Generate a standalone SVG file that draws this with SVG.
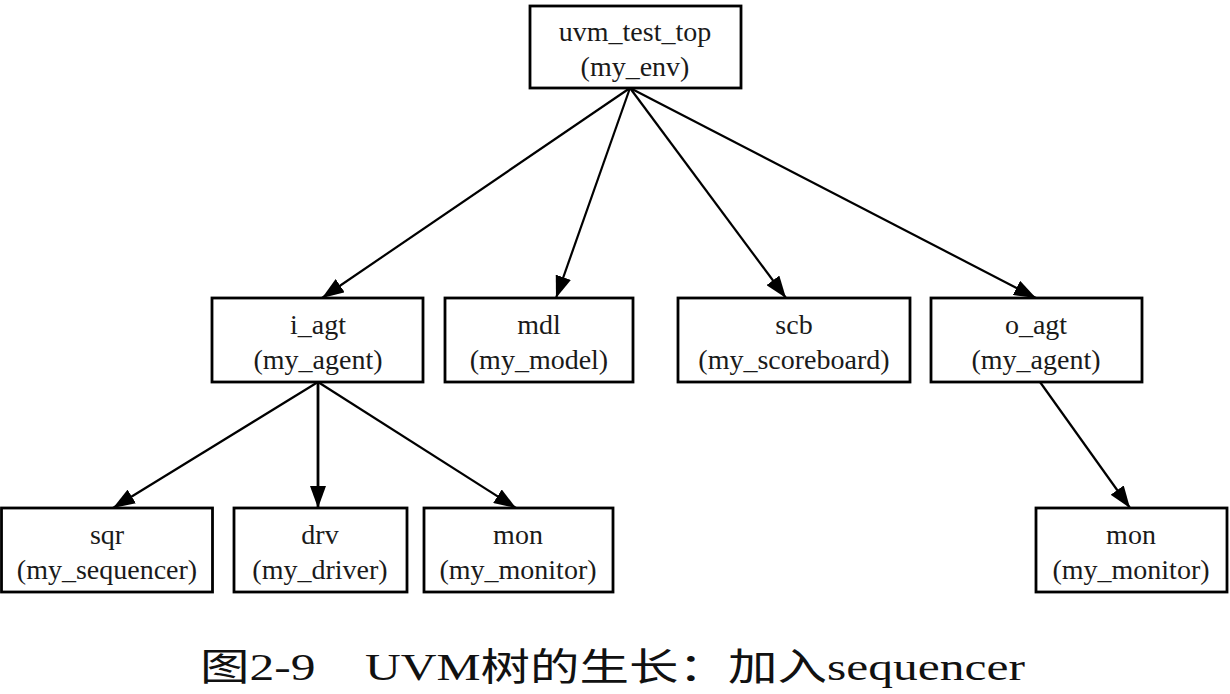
<svg xmlns="http://www.w3.org/2000/svg" width="1230" height="694" viewBox="0 0 1230 694">
<defs>
<marker id="ah" markerWidth="22" markerHeight="16" refX="22" refY="8" orient="auto" markerUnits="userSpaceOnUse">
<path d="M0,0 L22,8 L0,16 Z" fill="#000"/>
</marker>
<style>
.box{fill:#fff;stroke:#000;stroke-width:2.8}
.t{font-family:"Liberation Serif","Times New Roman",serif;font-size:28px;text-anchor:middle;fill:#1a1a1a}
.e{stroke:#000;stroke-width:2.2;fill:none;marker-end:url(#ah)}
.cap{font-family:"Liberation Serif","Noto Sans CJK SC",serif;font-size:38px;fill:#111}
</style>
</defs>
<rect width="1230" height="694" fill="#fff"/>
<g id="connectors">
<line class="e" x1="630" y1="88" x2="322" y2="298"/>
<line class="e" x1="630" y1="88" x2="556" y2="298"/>
<line class="e" x1="630" y1="88" x2="786" y2="298"/>
<line class="e" x1="630" y1="88" x2="1036" y2="298"/>
<line class="e" x1="318" y1="382" x2="113" y2="508"/>
<line class="e" x1="318" y1="382" x2="318" y2="508" style="stroke-width:2.8"/>
<line class="e" x1="318" y1="382" x2="516" y2="508"/>
<line class="e" x1="1040" y1="382" x2="1130" y2="508"/>
</g>
<g id="uvm_test_top">
<rect class="box" x="530" y="6" width="211" height="82"/>
<text class="t" x="635" y="41">uvm_test_top</text>
<text class="t" x="635" y="76">(my_env)</text>
</g>
<g id="i_agt">
<rect class="box" x="212" y="298" width="211" height="84"/>
<text class="t" x="318" y="334">i_agt</text>
<text class="t" x="318" y="369">(my_agent)</text>
</g>
<g id="mdl">
<rect class="box" x="445" y="298" width="188" height="84"/>
<text class="t" x="539" y="334">mdl</text>
<text class="t" x="539" y="369">(my_model)</text>
</g>
<g id="scb">
<rect class="box" x="678" y="298" width="232" height="84"/>
<text class="t" x="794" y="334">scb</text>
<text class="t" x="794" y="369">(my_scoreboard)</text>
</g>
<g id="o_agt">
<rect class="box" x="931" y="298" width="211" height="84"/>
<text class="t" x="1036" y="334">o_agt</text>
<text class="t" x="1036" y="369">(my_agent)</text>
</g>
<g id="sqr">
<rect class="box" x="1.5" y="508" width="211" height="84"/>
<text class="t" x="107" y="544">sqr</text>
<text class="t" x="107" y="579">(my_sequencer)</text>
</g>
<g id="drv">
<rect class="box" x="234" y="508" width="173" height="84"/>
<text class="t" x="320" y="544">drv</text>
<text class="t" x="320" y="579">(my_driver)</text>
</g>
<g id="mon_i">
<rect class="box" x="424" y="508" width="189" height="84"/>
<text class="t" x="518" y="544">mon</text>
<text class="t" x="518" y="579">(my_monitor)</text>
</g>
<g id="mon_o">
<rect class="box" x="1036" y="508" width="191" height="84"/>
<text class="t" x="1131" y="544">mon</text>
<text class="t" x="1131" y="579">(my_monitor)</text>
</g>
<text class="cap" x="200" y="680" textLength="825" lengthAdjust="spacingAndGlyphs">图2-9　UVM树的生长：加入sequencer</text>
</svg>
